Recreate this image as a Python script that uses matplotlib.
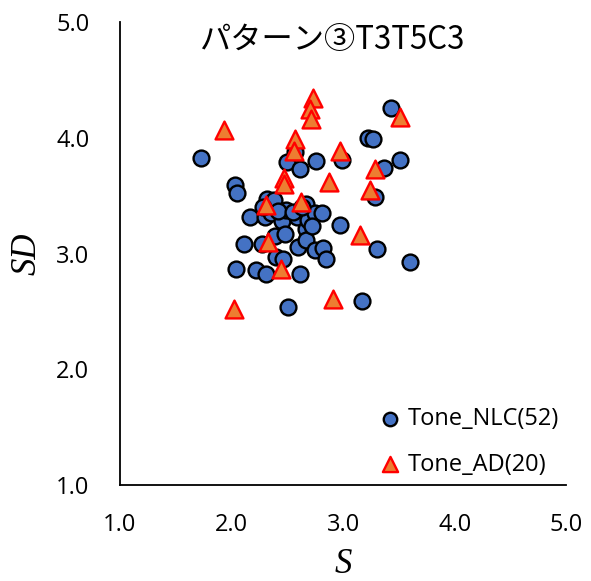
import matplotlib

matplotlib.use("Agg")
import matplotlib.pyplot as plt

# Tone_NLC (52) -- S, SD
nlc_s = [1.73, 2.03, 2.05, 2.04, 2.11, 2.17, 2.22, 2.31, 2.27, 2.30,
         2.35, 2.32, 2.38, 2.39, 2.40, 2.46, 2.45, 2.48, 2.49, 2.50,
         2.51, 2.59, 2.60, 2.61, 2.61, 2.67, 2.67, 2.67, 2.69, 2.75,
         2.81, 2.75, 2.82, 2.85, 2.76, 2.97, 2.99, 3.17, 3.22, 3.27,
         3.29, 3.30, 3.37, 3.43, 3.51, 3.60, 2.57, 2.28, 2.42, 2.55,
         2.63, 2.72]
nlc_sd = [3.83, 3.59, 3.52, 2.87, 3.08, 3.32, 2.86, 2.82, 3.08, 3.32,
          3.35, 3.47, 3.46, 3.15, 2.97, 2.95, 3.28, 3.17, 3.38, 3.79,
          2.54, 3.32, 3.06, 2.82, 3.73, 3.43, 3.21, 3.12, 3.29, 3.35,
          3.35, 3.03, 3.05, 2.95, 3.80, 3.25, 3.81, 2.59, 4.00, 3.99,
          3.49, 3.04, 3.74, 4.26, 3.81, 2.93, 3.88, 3.40, 3.37, 3.36,
          3.40, 3.24]

# Tone_AD (20)
ad_s = [2.73, 2.70, 2.71, 1.93, 3.51, 2.57, 2.56, 2.97, 2.47, 2.47,
        3.29, 2.87, 3.24, 2.31, 2.62, 2.33, 3.15, 2.44, 2.91, 2.02]
ad_sd = [4.34, 4.25, 4.16, 4.07, 4.18, 3.99, 3.89, 3.89, 3.65, 3.60,
         3.73, 3.62, 3.55, 3.42, 3.45, 3.10, 3.16, 2.87, 2.61, 2.52]

ticks = [1.0, 2.0, 3.0, 4.0, 5.0]
tick_labels = ["1.0", "2.0", "3.0", "4.0", "5.0"]

plt.rcParams["font.family"] = ["Open Sans", "DejaVu Sans"]

fig = plt.figure(figsize=(5.91, 5.81), dpi=100)
ax = fig.add_axes([0.203, 0.165, 0.755, 0.797])

ax.scatter(nlc_s, nlc_sd, s=130, marker="o", facecolor="#4472C4",
           edgecolor="black", linewidth=1.7, label="Tone_NLC(52)", zorder=3)
ax.scatter(ad_s, ad_sd, s=165, marker="^", facecolor="#ED7D31",
           edgecolor="#FF0000", linewidth=1.7, label="Tone_AD(20)", zorder=4)

ax.set_xlim(1.0, 5.0)
ax.set_ylim(1.0, 5.0)
ax.set_xticks(ticks)
ax.set_xticklabels(tick_labels)
ax.set_yticks(ticks)
ax.set_yticklabels(tick_labels)
ax.tick_params(length=0, labelsize=17)
ax.tick_params(axis="x", pad=20)
ax.tick_params(axis="y", pad=22)
for side in ("top", "right"):
    ax.spines[side].set_visible(False)
for side in ("left", "bottom"):
    ax.spines[side].set_linewidth(1.3)

ax.set_xlabel("S", family="Liberation Serif", style="italic", fontsize=25, labelpad=8)
ax.set_ylabel("SD", family="Liberation Serif", style="italic", fontsize=25, labelpad=9)

ax.text(0.475, 0.995, "パターン③T3T5C3", transform=ax.transAxes, ha="center",
        va="top", fontsize=22.5, family=["Noto Sans CJK JP", "DejaVu Sans"])

ax.legend(loc="lower right", frameon=False, fontsize=17, handletextpad=0.1,
          labelspacing=0.9, borderaxespad=0.0, handlelength=1.3,
          markerscale=0.85, bbox_to_anchor=(1.005, -0.002))

fig.savefig("out.png")
